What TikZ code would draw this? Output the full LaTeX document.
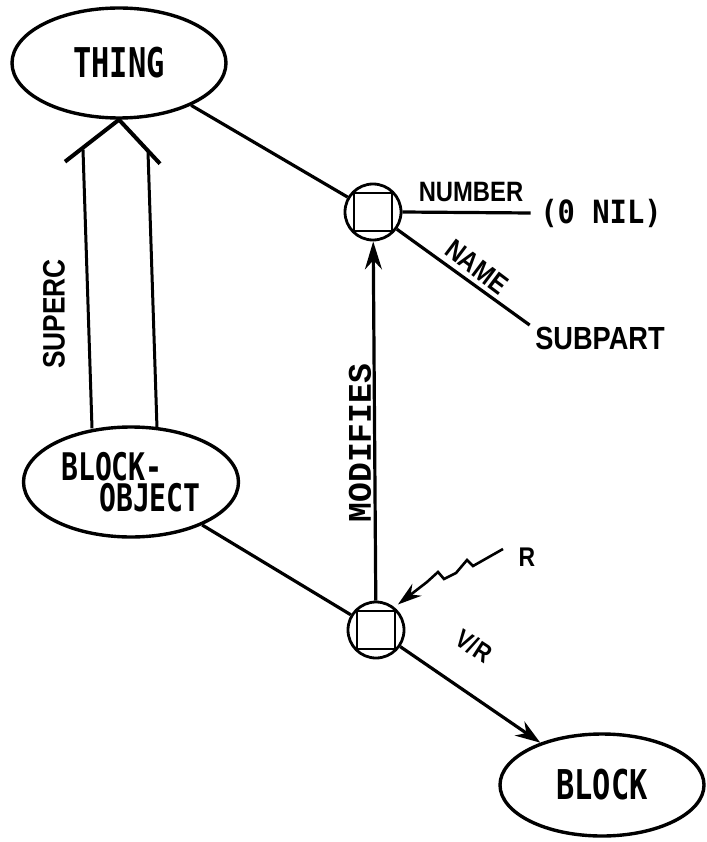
\documentclass[tikz,border=0pt]{standalone}
\usepackage{fontspec}
\usetikzlibrary{shapes.geometric,arrows.meta,calc}
\newfontfamily\nodefont[FakeStretch=0.74]{DejaVu Sans Mono}
\newfontfamily\nilfont[FakeStretch=0.9]{DejaVu Sans Mono}
\newfontfamily\tagfont[FakeStretch=0.85]{Liberation Sans}
\newfontfamily\relfont{Liberation Mono}

\begin{document}
\begin{tikzpicture}[x=1pt, y=-1pt, line width=3.2pt,
  concept/.style={ellipse, draw, line width=3.4pt, inner sep=0pt,
    font=\nodefont\bfseries\fontsize{41}{41}\selectfont},
  junction/.style={circle, draw, line width=2.8pt, minimum size=56pt, inner sep=0pt,
    path picture={\draw[line width=2.6pt]
      ([shift={(-19pt,-19pt)}]path picture bounding box.center) rectangle
      ([shift={(19pt,19pt)}]path picture bounding box.center);}},
  tag/.style={inner sep=0pt, font=\tagfont\bfseries\fontsize{28}{28}\selectfont}]
  \useasboundingbox (0,0) rectangle (706,842);

  % Concepts
  \node[concept, minimum width=214pt, minimum height=110pt] (thing) at (119,63) {THING};
  \node[concept, minimum width=215pt, minimum height=110pt, align=left,
    font=\nodefont\bfseries\fontsize{38}{31}\selectfont] (blockobj) at (131,482)
    {BLOCK-\\\hspace*{38pt}OBJECT};
  \node[concept, minimum width=204pt, minimum height=102pt] (block) at (602,785) {BLOCK};

  % Junctions
  \node[junction] (upper) at (373,212) {};
  \node[junction] (lower) at (376,630) {};

  % Values
  \node[inner sep=0pt, font=\nilfont\bfseries\fontsize{32}{32}\selectfont] (nil) at (601,213) {(0 NIL)};
  \node[tag, font=\tagfont\bfseries\fontsize{32}{32}\selectfont] (subpart) at (600,338) {SUBPART};

  % Links
  \draw (thing) -- (upper);
  \draw (upper.east) -- ([xshift=-8pt]nil.west);
  \draw (upper) -- ([xshift=-4pt]subpart.north west);
  \draw (blockobj) -- (lower);
  \draw[-{Stealth[length=28pt,width=17pt]}] (lower) -- (upper);
  \draw[-{Stealth[length=25pt,width=17pt]}] (lower) -- (block);

  % SUPERC (open double arrow)
  \coordinate (apex) at (thing.south);
  \draw[line width=3pt] ($(blockobj.north)+(-39,3)$) -- ($(apex)+(-36,30)$);
  \draw[line width=3pt] ($(blockobj.north)+(26,3)$) -- ($(apex)+(29,32)$);
  \draw[line width=4pt, line join=miter] ($(apex)+(-54,42)$) -- (apex) -- ($(apex)+(41,44)$);

  % R pointer
  \coordinate (rtail) at (503,549);
  \draw[line width=2.6pt, -{Stealth[length=24pt,width=15pt]}]
    (rtail) -- (473,566) -- (467,560) -- (456,573) -- (444,579) -- (438,572) -- (427,582)
    -- ([shift={(3pt,3pt)}]lower.50);

  % Labels
  \node[tag] (number) at (471,192) {NUMBER};
  \node[tag, rotate=-37] (name) at (477,267) {NAME};
  \node[tag, rotate=90, font=\tagfont\bfseries\fontsize{31}{31}\selectfont] (superc) at (54,314) {SUPERC};
  \node[inner sep=0pt, rotate=90, font=\relfont\bfseries\fontsize{33}{33}\selectfont] (modifies) at (360,443) {MODIFIES};
  \node[tag, rotate=-33, font=\tagfont\bfseries\fontsize{26}{26}\selectfont] (vr) at (474,646) {V/R};
  \node[tag, font=\tagfont\bfseries\fontsize{27}{27}\selectfont] (r) at (527,557) {R};
\end{tikzpicture}
\end{document}
